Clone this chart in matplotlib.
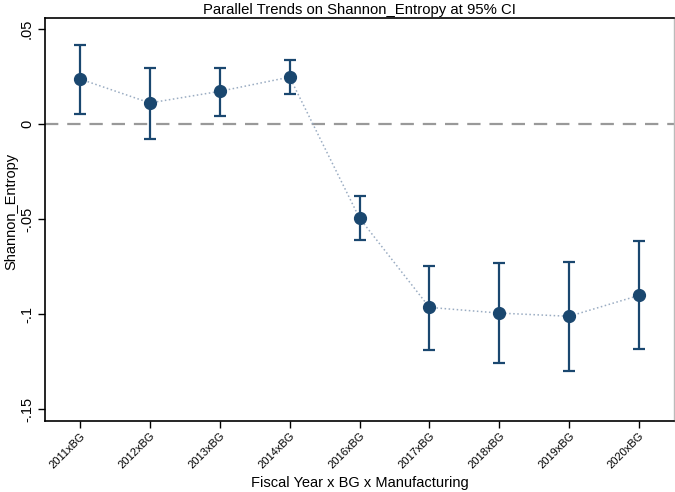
import numpy as np
import matplotlib
matplotlib.use('Agg')
import matplotlib.pyplot as plt

plt.rcParams['font.family'] = ['Liberation Sans', 'DejaVu Sans']

# event-study coefficients and 95% CI bounds
labels = ['2011xBG', '2012xBG', '2013xBG', '2014xBG', '2016xBG',
          '2017xBG', '2018xBG', '2019xBG', '2020xBG']
coef = [0.0237, 0.0111, 0.0172, 0.0247, -0.0495, -0.0965, -0.0995, -0.1012, -0.0902]
ci_low = [0.0054, -0.0077, 0.0044, 0.0158, -0.0611, -0.1188, -0.1256, -0.1300, -0.1186]
ci_high = [0.0417, 0.0295, 0.0296, 0.0335, -0.0379, -0.0746, -0.0730, -0.0725, -0.0618]
yticks = [0.05, 0, -0.05, -0.1, -0.15]
yticklabels = ['.05', '0', '-.05', '-.1', '-.15']

navy = '#1a476f'

fig = plt.figure(figsize=(6.75, 4.92), dpi=100)
ax = fig.add_axes([45/675, 71/492, 629/675, 403/492])

x = np.arange(1, len(labels) + 1)
coef = np.array(coef)
err = np.vstack([coef - np.array(ci_low), np.array(ci_high) - coef])

ax.axhline(0, color='#999999', lw=1.6, ls=(0, (6, 4)), zorder=1)
ax.plot(x, coef, ls=':', color='#9aacc2', lw=1.1, zorder=2)
ax.errorbar(x, coef, yerr=err, fmt='o', color=navy, ms=8.5, elinewidth=1.6,
            capsize=4.5, capthick=1.6, zorder=3)

ax.set_xlim(0.5, 9.5)
ax.set_ylim(-0.1563, 0.0558)
ax.set_xticks(x)
ax.set_xticklabels(labels, rotation=45, ha='right', rotation_mode='anchor', fontsize=8)
ax.set_yticks(yticks)
ax.set_yticklabels(yticklabels, rotation=90, va='center', fontsize=10.5)
ax.tick_params(axis='both', direction='out', length=5, width=1, color='black')
ax.tick_params(axis='x', pad=2)
ax.tick_params(axis='y', pad=3)

for side in ['left', 'bottom', 'top']:
    ax.spines[side].set_color('black')
    ax.spines[side].set_linewidth(1.2)
ax.spines['right'].set_color('#bbbbbb')
ax.spines['right'].set_linewidth(1.0)

ax.set_ylabel('Shannon_Entropy', fontsize=10.5, labelpad=1)
ax.yaxis.label.set_y(0.52)
ax.set_xlabel('Fiscal Year x BG x Manufacturing', fontsize=10.5)
ax.xaxis.set_label_coords(0.5, -0.137)
ax.set_title('Parallel Trends on Shannon_Entropy at 95% CI', fontsize=10.7, pad=3)

fig.savefig('out.png', dpi=100, facecolor='white')
